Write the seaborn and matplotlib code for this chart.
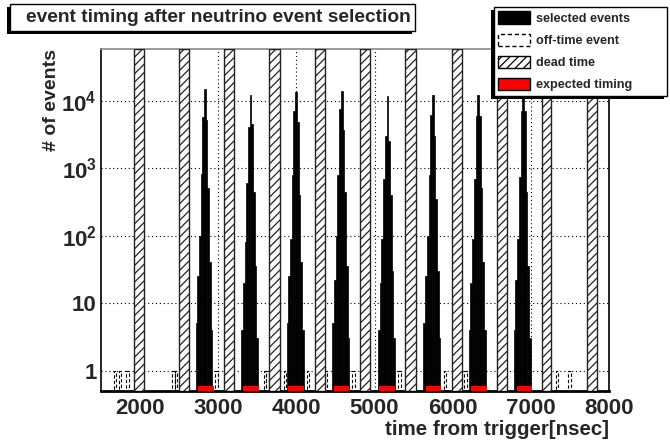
import numpy as np
import pandas as pd
import matplotlib
matplotlib.use("Agg")
import matplotlib.pyplot as plt
import seaborn as sns
from matplotlib.patches import Patch, Rectangle
from matplotlib.ticker import LogLocator, NullFormatter, MultipleLocator

sns.set_theme(style="white")
plt.rcParams["font.family"] = ["Liberation Sans", "DejaVu Sans"]
plt.rcParams["font.weight"] = "bold"
plt.rcParams["mathtext.fontset"] = "custom"
plt.rcParams["mathtext.rm"] = "Liberation Sans:bold"
plt.rcParams["mathtext.bf"] = "Liberation Sans:bold"
plt.rcParams["mathtext.it"] = "Liberation Sans:bold"
plt.rcParams["hatch.linewidth"] = 0.9
plt.rcParams["hatch.color"] = "black"

# ---- data -------------------------------------------------------------
# selected events: 8 beam bunches, counts per bin around each bunch peak
bunch_centers = [2829, 3412, 3995, 4580, 5164, 5745, 6325, 6901]
bin_width = 6500 / 300
bin_offsets = [-5, -4, -3, -2, -1, 0, 1, 2, 3, 4]
bunch_counts = [
    [5, 25, 100, 830, 5800, 15000, 5200, 500, 40, 4],
    [4, 20, 80, 600, 4000, 12000, 4500, 450, 35, 3],
    [5, 25, 90, 800, 7000, 13400, 4800, 400, 40, 4],
    [5, 22, 100, 800, 7500, 14000, 3700, 450, 35, 3],
    [4, 20, 90, 700, 3000, 11600, 2500, 400, 30, 3],
    [5, 25, 100, 800, 6200, 12000, 3000, 350, 30, 3],
    [4, 20, 90, 700, 6000, 12000, 6000, 500, 40, 4],
    [4, 22, 90, 750, 7000, 11000, 7000, 450, 35, 3],
]

# off-time events (one entry each)
offtime_events = [1690, 1750, 1850, 2440, 2470, 2990, 3590, 3620, 3860,
                  4160, 4370, 4740, 5310, 5630, 5900, 6160, 6600, 7340, 7490]

# detector dead time windows [ns]
dead_start = [1924, 2497, 3073, 3649, 4238, 4814, 5391, 5988, 6569, 7141, 7721]
dead_end = [2052, 2625, 3201, 3790, 4366, 4942, 5531, 6116, 6697, 7260, 7849]

# expected bunch timing windows
expected_centers = [2840, 3416, 3998, 4575, 5157, 5753, 6336, 6917]
expected_halfwidth = 100

x_range = [1500, 8000]
y_range = [0.5, 5.8e4]
x_ticks = [2000, 3000, 4000, 5000, 6000, 7000, 8000]
y_ticks = [1, 10, 100, 1000, 10000]
y_ticklabels = ["1", "10", r"$10^{2}$", r"$10^{3}$", r"$10^{4}$"]

# ---- tables -----------------------------------------------------------
sel_rows = []
edges = set()
for c, counts in zip(bunch_centers, bunch_counts):
    for o, n in zip(bin_offsets, counts):
        t = c + o * bin_width
        sel_rows.append((t, n))
        edges.add(round(t - bin_width / 2, 3))
        edges.add(round(t + bin_width / 2, 3))
edges.update(x_range)
sel_edges = [float(v) for v in sorted(edges)]
selected = pd.DataFrame(sel_rows, columns=["time", "count"])
offtime = pd.DataFrame({"time": offtime_events})
off_edges = [float(v) for v in
             np.arange(x_range[0], x_range[1] + bin_width / 2, 32.5)]

# ---- figure -----------------------------------------------------------
W, H = 670, 442
fig = plt.figure(figsize=(W / 100, H / 100), dpi=100)
fig.patch.set_facecolor("white")
ax = fig.add_axes([101 / W, 51 / H, 508 / W, 342 / H])

sns.histplot(data=selected, x="time", weights="count", bins=sel_edges,
             element="bars", fill=True, color="black", alpha=1,
             edgecolor="black", linewidth=0.5, ax=ax, zorder=2)
sns.histplot(data=offtime, x="time", bins=off_edges, element="bars",
             fill=False, color="black", linewidth=0.8, linestyle=(0, (3, 2)),
             ax=ax, zorder=2)

for s, e in zip(dead_start, dead_end):
    ax.axvspan(s, e, facecolor="white", edgecolor="#222222", hatch="////",
               linewidth=1.0, zorder=3)

for c in expected_centers:
    ax.axvspan(c - expected_halfwidth, c + expected_halfwidth, ymin=0,
               ymax=0.014, facecolor="red", edgecolor="none", zorder=4)

ax.set_yscale("log")
ax.set_xlim(*x_range)
ax.set_ylim(*y_range)

ax.set_xticks(x_ticks)
ax.set_xticklabels([str(v) for v in x_ticks])
ax.xaxis.set_minor_locator(MultipleLocator(100))
ax.set_yticks(y_ticks)
ax.set_yticklabels(y_ticklabels)
ax.yaxis.set_minor_locator(LogLocator(base=10, subs=np.arange(2, 10)))
ax.yaxis.set_minor_formatter(NullFormatter())

ax.tick_params(axis="both", which="major", direction="in", length=8,
               width=1, labelsize=16, color="black")
ax.tick_params(axis="both", which="minor", direction="in", length=4.5,
               width=0.8, color="black")
ax.tick_params(axis="x", which="major", pad=5)
ax.tick_params(axis="y", which="major", pad=3)
ax.tick_params(top=False, right=False, which="both")
for lab in ax.get_xticklabels() + ax.get_yticklabels():
    lab.set_fontweight("bold")

ax.grid(True, which="major", axis="both", linestyle=(0, (1, 2.5)),
        color="black", linewidth=0.8)
ax.set_axisbelow(True)

for side in ["left", "bottom", "right"]:
    ax.spines[side].set_color("black")
ax.spines["left"].set_linewidth(1.2)
ax.spines["bottom"].set_linewidth(2)
ax.spines["right"].set_linewidth(1.2)
ax.spines["top"].set_color("#8a8a8a")
ax.spines["top"].set_linewidth(1.2)

ax.set_xlabel("time from trigger[nsec]", loc="right", fontsize=14.8,
              fontweight="bold", labelpad=1)
ax.set_ylabel("# of events", loc="top", fontsize=14, fontweight="bold")
ax.yaxis.set_label_coords(-0.081, 1.0)

# ---- title box ---------------------------------------------------------
def px_rect(x0, y0, x1, y1, **kw):
    return Rectangle((x0 / W, 1 - y1 / H), (x1 - x0) / W, (y1 - y0) / H,
                     transform=fig.transFigure, **kw)

fig.patches.append(px_rect(7, 7, 412, 34, facecolor="black",
                           edgecolor="none", zorder=3))
fig.patches.append(px_rect(10, 4, 415, 31, facecolor="white",
                           edgecolor="black", linewidth=1, zorder=4))
fig.text(218 / W, 1 - 18 / H, "event timing after neutrino event selection",
         ha="center", va="center", fontsize=13.8, fontweight="bold",
         zorder=5)

# ---- legend -------------------------------------------------------------
handles = [
    Patch(facecolor="black", edgecolor="black", linewidth=1),
    Patch(facecolor="white", edgecolor="black", linewidth=1,
          linestyle=(0, (3, 2))),
    Patch(facecolor="white", edgecolor="black", linewidth=1, hatch="////"),
    Patch(facecolor="red", edgecolor="black", linewidth=1),
]
labels = ["selected events", "off-time event", "dead time", "expected timing"]
leg = fig.legend(handles, labels, loc="upper left",
                 bbox_to_anchor=(494 / W, 1 - 93 / H, 173 / W, 86 / H),
                 bbox_transform=fig.transFigure, mode="expand",
                 fontsize=9.1, frameon=True, fancybox=False, framealpha=1,
                 edgecolor="black", handlelength=2.5, handleheight=1.1,
                 labelspacing=0.7, handletextpad=0.45, borderpad=0.35,
                 borderaxespad=0)
leg.get_frame().set_linewidth(1)
leg.set_zorder(6)
for t in leg.get_texts():
    t.set_fontweight("bold")

fig.canvas.draw()
bb = leg.get_window_extent().transformed(fig.transFigure.inverted())
fig.patches.append(Rectangle((bb.x0 - 3 / W, bb.y0 - 3 / H), bb.width,
                             bb.height, transform=fig.transFigure,
                             facecolor="black", edgecolor="none", zorder=5))

fig.savefig("out.png", dpi=100, facecolor="white")
